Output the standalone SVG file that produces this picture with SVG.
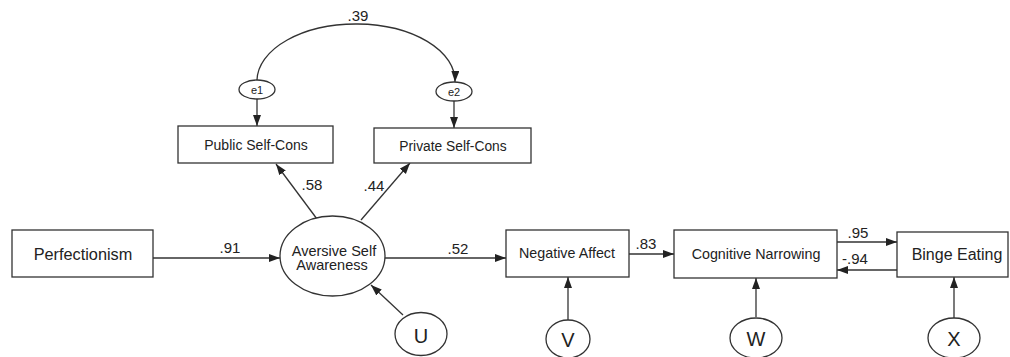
<svg xmlns="http://www.w3.org/2000/svg" width="1010" height="357" viewBox="0 0 1010 357">
<defs>
<marker id="ah" markerUnits="userSpaceOnUse" markerWidth="12" markerHeight="10" refX="11" refY="4" orient="auto">
<path d="M0,0 L11,4 L0,8 Z" fill="#222"/>
</marker>
<style>
.box{fill:#fff;stroke:#333;stroke-width:1.3}
.ell{fill:#fff;stroke:#333;stroke-width:1.3}
.t{font-family:"Liberation Sans",Arial,sans-serif;fill:#222;text-anchor:middle}
.lbl{font-family:"Liberation Sans",Arial,sans-serif;fill:#222;font-size:15px;text-anchor:middle}
.c{fill:none;stroke:#333;stroke-width:1.3;marker-end:url(#ah)}
</style>
</defs>
<rect width="1010" height="357" fill="#fff"/>
<g id="connectors">
<path class="c" d="M257,80 A99 57 0 0 1 455,82"/>
<path class="c" d="M257,99 L257,126"/>
<path class="c" d="M454,101 L454,128"/>
<path class="c" d="M317,219 L276,164"/>
<path class="c" d="M361,220 L410,163"/>
<path class="c" d="M153,258 L280,258"/>
<path class="c" d="M385,258 L506,258"/>
<path class="c" d="M629,254 L674,254"/>
<path class="c" d="M837,242 L897,242"/>
<path class="c" d="M897,270 L837,270"/>
<path class="c" d="M403,315 L371,285"/>
<path class="c" d="M568,320 L568,277"/>
<path class="c" d="M756,317 L756,278"/>
<path class="c" d="M954,318 L954,277"/>
<text class="lbl" x="358" y="21">.39</text>
<text class="lbl" x="312" y="190">.58</text>
<text class="lbl" x="374" y="191">.44</text>
<text class="lbl" x="230" y="253">.91</text>
<text class="lbl" x="458" y="254">.52</text>
<text class="lbl" x="646" y="249">.83</text>
<text class="lbl" x="858" y="238">.95</text>
<text class="lbl" x="855" y="264">-.94</text>
</g>
<g id="e1"><ellipse class="ell" cx="257" cy="89.5" rx="18" ry="9.5"/><text class="t" x="257" y="93.5" font-size="11">e1</text></g>
<g id="e2"><ellipse class="ell" cx="454" cy="91.5" rx="18" ry="9.5"/><text class="t" x="454" y="95.5" font-size="11">e2</text></g>
<g id="public"><rect class="box" x="178" y="126" width="155" height="37"/><text class="t" x="256" y="150" font-size="14">Public Self-Cons</text></g>
<g id="private"><rect class="box" x="374" y="128" width="157" height="35"/><text class="t" x="453" y="151" font-size="13.8">Private Self-Cons</text></g>
<g id="perfectionism"><rect class="box" x="12" y="230" width="141" height="47"/><text class="t" x="83" y="260" font-size="16.3">Perfectionism</text></g>
<g id="aversive"><ellipse class="ell" cx="332.5" cy="256" rx="52.5" ry="40"/><text class="t" x="334" y="256" font-size="14.5">Aversive Self</text><text class="t" x="332" y="270" font-size="14.5">Awareness</text></g>
<g id="negative"><rect class="box" x="506" y="230" width="123" height="47"/><text class="t" x="567" y="258" font-size="14.3">Negative Affect</text></g>
<g id="cognitive"><rect class="box" x="674" y="230" width="163" height="48"/><text class="t" x="756" y="259" font-size="14.3">Cognitive Narrowing</text></g>
<g id="binge"><rect class="box" x="897" y="232" width="111" height="45"/><text class="t" x="957" y="260" font-size="16">Binge Eating</text></g>
<g id="U"><ellipse class="ell" cx="421" cy="334" rx="26" ry="21.5"/><text class="t" x="421" y="343" font-size="20">U</text></g>
<g id="V"><ellipse class="ell" cx="568" cy="339" rx="22" ry="19"/><text class="t" x="568" y="347" font-size="20">V</text></g>
<g id="W"><ellipse class="ell" cx="756" cy="338" rx="26" ry="20"/><text class="t" x="756" y="346" font-size="20">W</text></g>
<g id="X"><ellipse class="ell" cx="954" cy="338" rx="26" ry="20"/><text class="t" x="954" y="346" font-size="20">X</text></g>
</svg>
